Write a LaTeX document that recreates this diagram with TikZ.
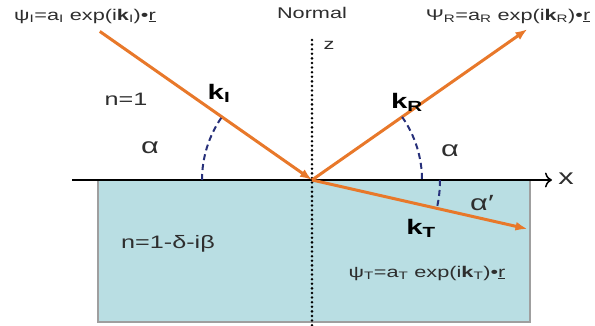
\documentclass[tikz,border=0pt]{standalone}
\usepackage{fontspec}
\setmainfont{Liberation Sans}[FakeStretch=1.4]
\usetikzlibrary{arrows.meta,calc}
\definecolor{rayorange}{HTML}{E8782A}
\definecolor{mediumblue}{HTML}{B9DEE3}
\definecolor{arcblue}{HTML}{27307A}
\definecolor{textgray}{HTML}{2E2E2E}
\tikzset{
    ray/.style={rayorange, line width=3pt, -{Latex[length=12pt,width=9pt]}},
    anglearc/.style={arcblue, line width=2pt, dash pattern=on 6pt off 4pt},
    formula/.style={textgray, inner sep=0pt, font=\fontsize{15.5}{17}\selectfont},
    medtext/.style={textgray, inner sep=0pt, font=\fontsize{18}{20}\selectfont},
    wavevec/.style={black, inner sep=0pt, font=\fontsize{21}{23}\selectfont\bfseries},
    anglelbl/.style={textgray, inner sep=0pt, font=\fontsize{22}{24}\selectfont}
}
\begin{document}
\begin{tikzpicture}[x=1pt,y=1pt]
    \useasboundingbox (0,0) rectangle (595,326);
    % Medium
    \fill[mediumblue, draw=gray!75, line width=1.5pt] (98,4) rectangle (530,146);
    % Axes
    \coordinate (O) at (312,146);
    \coordinate (xstart) at (72,146);
    \coordinate (xend) at (552,146);
    \coordinate (ntop) at (312,286);
    \coordinate (nbot) at (312,0);
    \draw[black, line width=1.5pt, -{To[length=7pt,width=15pt]}] (xstart) -- (xend);
    \draw[black, line width=2.8pt, line cap=round, dash pattern=on 0pt off 4.6pt] (ntop) -- (nbot);
    \node[anglelbl] (xlbl) at (566,147) {x};
    \node[formula] (zlbl) at (329,281) {z};
    \node[formula] (normal) at (312,313) {Normal};
    % Rays
    \coordinate (kIstart) at ($(O)+(145:259)$);
    \coordinate (kRend) at ($(O)+(35:263)$);
    \coordinate (kTend) at ($(O)+(-12.8:221)$);
    \draw[ray] (kIstart) -- (O);
    \draw[ray] (O) -- (kRend);
    \draw[ray] (O) -- (kTend);
    % Angles
    \draw[anglearc] ([shift={(180:110)}]O) arc[start angle=180, end angle=145, radius=110];
    \draw[anglearc] ([shift={(35:110)}]O) arc[start angle=35, end angle=0, radius=110];
    \draw[anglearc] ([shift={(0:128)}]O) arc[start angle=0, end angle=-12.8, radius=128];
    \node[anglelbl] (alphaI) at (150,178) {α};
    \node[anglelbl] (alphaR) at (450,175) {α};
    \node[anglelbl] (alphaT) at (482,123) {α′};
    % Wave vectors
    \node[wavevec] (kI) at (219,233) {k\textsubscript{I}};
    \node[wavevec] (kR) at (407,224) {k\textsubscript{R}};
    \node[wavevec] (kT) at (421,98) {k\textsubscript{T}};
    % Media
    \node[medtext] (nvac) at (126,227) {n=1};
    \node[medtext] (nmed) at (168,82) {n=1-δ-iβ};
    % Waves
    \node[formula] (psiI) at (85,310) {ψ\textsubscript{I}=a\textsubscript{I} exp(i\textbf{k}\textsubscript{I})•\underline{r}};
    \node[formula] (psiR) at (508,310) {Ψ\textsubscript{R}=a\textsubscript{R} exp(i\textbf{k}\textsubscript{R})•\underline{r}};
    \node[formula] (psiT) at (427,53) {ψ\textsubscript{T}=a\textsubscript{T} exp(i\textbf{k}\textsubscript{T})•\underline{r}};
\end{tikzpicture}
\end{document}
